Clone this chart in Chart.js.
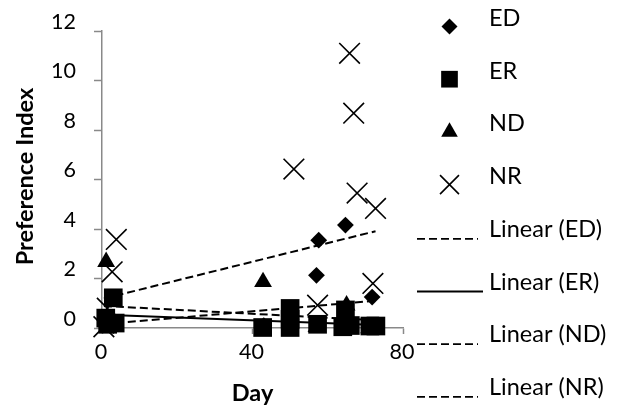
<!DOCTYPE html>
<html>
<head>
<meta charset="utf-8">
<script src="https://cdn.jsdelivr.net/npm/chart.js@4"></script>
<style>
  html, body { margin: 0; padding: 0; background: #ffffff; }
  #wrap { width: 618px; height: 406px; position: relative; }
</style>
</head>
<body>
<div id="wrap"><canvas id="c" width="618" height="406"></canvas></div>
<script>
// ---------- data ----------
const seriesNames = ['ED', 'ER', 'ND', 'NR'];
const trendNames = ['Linear (ED)', 'Linear (ER)', 'Linear (ND)', 'Linear (NR)'];

const edDays   = [1, 3, 43, 50, 57, 57.6, 64.7, 71.8];
const edValues = [0.2, 0.1, 0.1, 0.2, 2.13, 3.55, 4.16, 1.25];

const erDays   = [3, 1, 3.5, 1.5, 42.7, 50, 50, 50, 57.3, 64.7, 64, 66, 71.2, 72.8];
const erValues = [1.22, 0.4, 0.2, 0.15, 0.02, 0.79, 0.35, 0.02, 0.15, 0.73, 0.05, 0.1, 0.08, 0.08];

const ndDays   = [1.1, 3, 42.8, 50, 57, 64, 65, 71];
const ndValues = [2.67, 0.3, 1.86, 0.0, 0.05, 0.0, 0.92, 0.0];

const nrDays   = [0.5, 1.4, 2.7, 3.8, 51, 57.3, 65.8, 66.9, 67.8, 72.7, 72];
const nrValues = [0.05, 0.8, 2.27, 3.58, 6.42, 0.92, 11.1, 8.68, 5.45, 4.83, 1.8];

// linear trend lines: [start day, end day] and [start value, end value]
const trendEdDays = [0.5, 72.7], trendEdValues = [1.19, 3.91];
const trendErDays = [0.5, 73],   trendErValues = [0.54, 0.12];
const trendNdDays = [0.5, 72],   trendNdValues = [0.89, 0.32];
const trendNrDays = [0.5, 72.7], trendNrValues = [0.16, 1.10];

const xTicks = [0, 40, 80];
const yTicks = [0, 2, 4, 6, 8, 10, 12];

// ---------- build ----------
const pts = (xs, ys) => xs.map((x, i) => ({ x: x, y: ys[i] }));
const AXIS = '#898989';
const FONT = 'Lato';

const markerStyle = [
  { pointStyle: 'rectRot',  pointRadius: 8.4,  legendRadius: 8.0,  fill: true },
  { pointStyle: 'rect',     pointRadius: 13.2, legendRadius: 11.8, fill: true },
  { pointStyle: 'triangle', pointRadius: 10.3, legendRadius: 9.6,  fill: true },
  { pointStyle: 'crossRot', pointRadius: 14.6, legendRadius: 13.4, fill: false }
];
const seriesData = [
  pts(edDays, edValues), pts(erDays, erValues), pts(ndDays, ndValues), pts(nrDays, nrValues)
];
const trendData = [
  pts(trendEdDays, trendEdValues), pts(trendErDays, trendErValues),
  pts(trendNdDays, trendNdValues), pts(trendNrDays, trendNrValues)
];
const trendDash = [[8, 4], [], [8, 4], [8, 4]];

const datasets = [];
seriesNames.forEach((name, i) => {
  const m = markerStyle[i];
  datasets.push({
    label: name,
    data: seriesData[i],
    pointStyle: m.pointStyle,
    pointRadius: m.pointRadius,
    pointHoverRadius: m.pointRadius,
    backgroundColor: '#000000',
    borderColor: '#000000',
    pointBorderWidth: m.fill ? 0 : 1.6,
    borderWidth: m.fill ? 0 : 1.6,
    showLine: false,
    clip: false,
    order: 4 - i,
    legendRadius: m.legendRadius
  });
});
trendNames.forEach((name, i) => {
  datasets.push({
    label: name,
    data: trendData[i],
    showLine: true,
    pointRadius: 0,
    pointHoverRadius: 0,
    borderColor: '#000000',
    backgroundColor: 'transparent',
    borderWidth: 2,
    borderDash: trendDash[i],
    fill: false,
    clip: false,
    order: 10 + i
  });
});

// custom right-hand legend, built from the datasets
const sideLegend = {
  id: 'sideLegend',
  afterDraw(chart) {
    const ctx = chart.ctx;
    const textX = 489, markX = 449.5, lineX0 = 417, lineX1 = 478, lineX1Solid = 483;
    const y0 = 18.5, step = 52.7;
    ctx.save();
    ctx.font = '23.5px ' + FONT;
    ctx.textBaseline = 'middle';
    ctx.textAlign = 'left';
    chart.data.datasets.forEach((ds, i) => {
      const ty = y0 + step * i;
      ctx.fillStyle = '#000000';
      ctx.fillText(ds.label, textX, ty);
      if (!ds.showLine) {
        const opts = {
          pointStyle: ds.pointStyle,
          radius: ds.legendRadius,
          borderWidth: ds.pointBorderWidth,
          rotation: 0
        };
        ctx.save();
        ctx.fillStyle = '#000000';
        ctx.strokeStyle = '#000000';
        ctx.lineWidth = ds.pointBorderWidth;
        Chart.helpers.drawPoint(ctx, opts, markX, ty + 8);
        ctx.restore();
      } else {
        const solid = !ds.borderDash || ds.borderDash.length === 0;
        ctx.save();
        ctx.strokeStyle = '#000000';
        ctx.lineWidth = 1.8;
        ctx.setLineDash(solid ? [] : ds.borderDash);
        ctx.beginPath();
        ctx.moveTo(lineX0, ty + 9.5);
        ctx.lineTo(solid ? lineX1Solid : lineX1, ty + 9.5);
        ctx.stroke();
        ctx.restore();
      }
    });
    ctx.restore();
  }
};

Chart.defaults.font.family = FONT;
Chart.defaults.color = '#000000';

new Chart(document.getElementById('c'), {
  type: 'scatter',
  data: { datasets: datasets },
  options: {
    responsive: false,
    animation: false,
    events: [],
    layout: { padding: { left: 0, top: 31, right: 215, bottom: 0 } },
    plugins: { legend: { display: false }, tooltip: { enabled: false } },
    scales: {
      x: {
        type: 'linear',
        min: xTicks[0],
        max: xTicks[xTicks.length - 1],
        afterBuildTicks: (s) => { s.ticks = xTicks.map(v => ({ value: v })); },
        afterFit: (s) => { s.height = 78; },
        ticks: { font: { size: 21.5 }, padding: 5, labelOffset: -1, color: '#000000', maxRotation: 0 },
        grid: { drawOnChartArea: false, drawTicks: true, tickLength: 6, tickColor: AXIS, tickWidth: 1.5 },
        border: { display: true, color: AXIS, width: 1.5 },
        title: {
          display: true, text: 'Day', color: '#000000',
          font: { size: 23.5, weight: 'bold', lineHeight: 1.1 },
          padding: { top: 0, bottom: 0 }
        }
      },
      y: {
        type: 'linear',
        min: yTicks[0],
        max: yTicks[yTicks.length - 1],
        afterBuildTicks: (s) => { s.ticks = yTicks.map(v => ({ value: v })); },
        afterFit: (s) => { s.width = 102; },
        ticks: { font: { size: 21.5 }, padding: 18, labelOffset: -9, color: '#000000' },
        grid: { drawOnChartArea: false, drawTicks: true, tickLength: 8, tickColor: AXIS, tickWidth: 1.5 },
        border: { display: true, color: AXIS, width: 1.5 },
        title: {
          display: true, text: '\u2009\u2009Preference Index', color: '#000000',
          font: { size: 23.5, weight: 'bold', lineHeight: 1.1 },
          padding: { top: 12, bottom: 0 }
        }
      }
    }
  },
  plugins: [sideLegend]
});
</script>
</body>
</html>
